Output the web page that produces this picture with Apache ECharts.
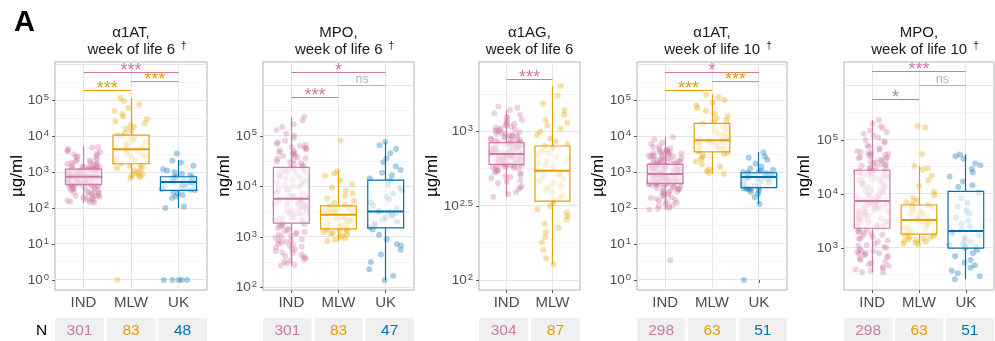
<!DOCTYPE html>
<html><head><meta charset="utf-8">
<script src="https://cdn.jsdelivr.net/npm/echarts@6/dist/echarts.min.js"></script>
<style>html,body{margin:0;padding:0;background:#fff}#c{width:995px;height:341px}</style>
</head><body><div id="c"></div><script>
const FONT = '"Liberation Sans", Arial, Helvetica, sans-serif';

// ---------------- DATA ----------------
const groups3 = ['IND', 'MLW', 'UK'];
const groups2 = ['IND', 'MLW'];
const groupColors = {IND: '#CC79A7', MLW: '#E69F00', UK: '#0072B2'};

const titleLine1 = ['α1AT,', 'MPO,', 'α1AG,', 'α1AT,', 'MPO,'];
const titleLine2 = ['week of life 6', 'week of life 6', 'week of life 6', 'week of life 10', 'week of life 10'];
const titleDagger = [true, true, false, true, true];
const units = ['µg/ml', 'ng/ml', 'µg/ml', 'µg/ml', 'ng/ml'];

// y tick labels (exponents of 10)
const ticksA1AT = [0, 1, 2, 3, 4, 5];
const ticksMPO6 = [2, 3, 4, 5];
const ticksA1AG = [2, 2.5, 3];
const ticksMPO10 = [3, 4, 5];

// N per group
const nA1AT6 = [301, 83, 48];
const nMPO6 = [301, 83, 47];
const nA1AG6 = [304, 87];
const nA1AT10 = [298, 63, 51];
const nMPO10 = [298, 63, 51];

// box stats: [lower whisker, Q1, median, Q3, upper whisker]
const boxA1AT6 = [[138, 455, 740, 1210, 5250], [660, 1700, 4300, 10700, 115000], [100, 310, 525, 740, 2150]];
const boxMPO6 = [[267, 1870, 5660, 23700, 238000], [830, 1440, 2750, 4100, 20300], [139, 1510, 3190, 13300, 76000]];
const boxA1AG6 = [[365, 603, 707, 843, 1400], [128, 341, 546, 801, 2030]];
const boxA1AT10 = [[91, 484, 880, 1640, 9550], [880, 3640, 7600, 22500, 144000], [130, 370, 725, 955, 3600]];
const boxMPO10 = [[355, 2320, 7400, 27500, 234000], [1170, 1800, 3300, 6250, 33000], [263, 990, 2070, 11200, 54300]];

// significance: [group a, group b, label]
const sigA1AT6 = [[0, 2, '***'], [1, 2, '***'], [0, 1, '***']];
const sigMPO6 = [[0, 2, '*'], [1, 2, 'ns'], [0, 1, '***']];
const sigA1AG6 = [[0, 1, '***']];
const sigA1AT10 = [[0, 2, '*'], [1, 2, '***'], [0, 1, '***']];
const sigMPO10 = [[0, 2, '***'], [1, 2, 'ns'], [0, 1, '*']];

// individual points
const a1at6_IND = [140,150,162,170,182,190,205,212,224,236,250,262,280,298,318,340,362,380,402,420,438,452,
 462,478,500,512,530,548,562,580,598,612,630,648,662,680,690,702,712,722,730,736,742,746,
 752,768,788,802,822,848,872,898,922,948,982,1000,1022,1048,1082,1100,1122,1148,1172,1190,1202,1212,
 1250,1300,1350,1400,1460,1520,1600,1700,1800,1900,2000,2120,2300,2500,2700,3000,3300,3600,4000,4400,4800,5000,
 145,158,175,195,215,240,270,290,330,350,370,395,415,430,445,470,490,520,540,570,590,620,640,670,700,715,725,
 760,780,810,830,860,890,910,940,970,1010,1060,1090,1130,1160,1180,1280,1330,1420,1550,1650,1750,2200,2600,3100,3800];
const a1at6_MLW = [1,680,720,780,820,870,920,1000,1100,1200,1300,1400,1500,1600,1700,
 1900,2100,2300,2500,2700,2900,3100,3400,3700,4000,4300,4600,5000,5400,5800,6300,6800,7300,7900,8600,9300,10000,10700,
 12000,14000,16000,18000,20000,23000,26000,30000,35000,42000,50000,60000,75000,95000,115000];
const a1at6_UK = [1,1,1,1,1,100,110,190,210,230,250,280,310,320,340,360,380,400,420,450,470,490,510,520,530,
 560,590,620,650,680,700,720,740,800,900,1000,1100,1200,1500,1800,2100,3300];

const mpo6_IND = [270,300,340,380,420,470,520,580,640,700,760,820,900,980,1060,1150,1250,1370,1500,1650,1800,
 1900,2000,2150,2300,2450,2600,2800,3000,3200,3400,3600,3800,4000,4200,4400,4600,4800,5000,5200,5400,5600,
 5800,6200,6700,7200,7800,8400,9000,9700,10500,11300,12200,13100,14100,15200,16300,17500,18800,20000,21200,22400,23500,
 25000,27000,29000,31000,33000,35000,38000,41000,44000,47000,50000,54000,58000,63000,70000,80000,90000,100000,130000,170000,238000,
 280,320,360,400,450,500,560,620,680,740,800,860,950,1100,1200,1300,1450,1600,1750,1950,2100,2400,2700,2900,3300,3700,4100,4500,4900,5300,
 6000,6500,7500,8800,10000,11800,13500,16000,19000,22000,26000,30000,36000,40000,43000,46000,52000,56000,60000,66000,75000,110000,150000,200000];
const mpo6_MLW = [830,880,950,1000,1050,1100,1150,1200,1250,1300,1350,1400,1430,
 1460,1550,1650,1750,1850,1950,2050,2150,2250,2350,2450,2600,2700,
 2800,2900,3000,3100,3200,3300,3400,3500,3600,3700,3800,3950,4050,
 4300,4700,5200,5800,6500,7300,8200,9500,11000,13000,16000,18000,20000,80000];
const mpo6_UK = [139,170,230,320,450,560,680,720,900,1100,1400,
 1550,1700,1850,2000,2200,2400,2600,2800,2950,3100,3150,
 3300,3700,4200,4800,5500,6300,7200,8300,9500,11000,13000,
 14500,16500,18500,21000,25000,30000,36000,45000,55000,65000,76000];

const a1ag6_IND = [365,390,410,430,450,470,485,500,515,530,540,550,560,570,578,585,590,595,600,602,
 605,612,618,625,632,638,645,650,656,662,668,673,679,684,689,693,697,700,703,706,
 709,715,722,728,735,742,749,756,763,770,777,784,790,797,804,812,820,828,835,842,
 850,865,880,895,910,925,940,955,970,990,1010,1030,1050,1080,1110,1150,1200,1260,1330,1480,
 380,420,460,495,520,545,565,575,592,598,608,615,622,628,635,642,648,653,659,665,671,676,682,687,691,695,699,702,704,
 712,718,725,732,738,745,752,760,766,773,780,787,794,800,808,816,824,832,839,
 858,872,888,902,918,933,948,962,980,1000,1020,1040,1065,1095,1130,1170,1230,1300,1400,1450];
const a1ag6_MLW = [128,140,160,180,195,210,225,240,255,270,285,300,315,330,
 345,360,375,390,405,420,435,450,465,480,495,510,525,540,
 555,575,595,615,635,655,675,695,715,735,755,770,785,800,
 820,860,900,950,1000,1050,1100,1150,1200,1300,1400,1550,1750,2030];

const a1at10_IND = [3.5,91,100,115,130,150,170,190,210,235,260,285,310,335,360,385,410,430,450,465,480,
 490,505,520,535,550,565,580,600,620,640,660,680,700,720,740,760,780,800,830,850,870,
 900,930,960,990,1020,1060,1100,1140,1180,1220,1260,1300,1340,1380,1420,1460,1500,1540,1580,1610,1640,
 1700,1800,1900,2000,2100,2200,2350,2500,2650,2800,2950,3100,3300,3500,3700,3900,4200,4600,5200,6500,9500,
 95,108,122,140,160,180,200,222,248,272,298,322,348,372,398,420,440,458,472,
 498,512,528,542,558,572,590,610,630,650,670,690,710,730,750,770,790,815,840,860,875,
 915,945,975,1005,1040,1080,1120,1160,1200,1240,1280,1320,1360,1400,1440,1480,1520,1560,1600,1630,
 1750,1850,1950,2050,2150,2280,2420,2580,2720,2880,3050,3200,3400,3600,3800,4000,4400,5000,6000,8000];
const a1at10_MLW = [880,950,1050,1200,1400,1650,1950,2300,2600,2900,3200,3500,
 3700,4000,4300,4600,5000,5400,5800,6200,6600,7000,7300,7500,
 7800,8400,9200,10000,11000,12000,13500,15000,16500,18000,20000,22000,
 24000,27000,31000,36000,42000,50000,60000,72000,85000,100000,120000,144000];
const a1at10_UK = [1,130,200,250,280,300,320,335,350,360,365,
 380,420,460,500,540,580,620,650,680,700,720,
 740,760,780,800,820,840,860,880,900,920,950,
 980,1020,1080,1150,1250,1400,1700,2200,2500,2700,3500];

const mpo10_IND = [355,380,420,470,530,600,680,740,780,820,870,950,1050,1150,1300,1450,1600,1750,1900,2050,2250,
 2400,2550,2700,2900,3100,3300,3500,3750,4000,4250,4500,4800,5100,5400,5700,6000,6300,6600,6900,7100,7300,
 7600,8100,8700,9300,10000,10800,11600,12500,13400,14400,15500,16500,17700,19000,20300,21700,23000,24300,25500,26500,27300,
 29000,31000,33000,35000,37000,40000,43000,46000,49000,52000,55000,58000,62000,70000,80000,95000,110000,130000,150000,180000,234000,
 360,400,450,500,560,640,710,760,800,840,900,1000,1100,1200,1380,1520,1680,1820,1980,2150,
 2480,2620,2800,3000,3200,3400,3600,3900,4100,4400,4650,4950,5250,5550,5850,6150,6450,6750,7000,7200,
 7800,8400,9000,9600,10400,11200,12000,12900,13900,14900,16000,17100,18300,19600,21000,22300,23600,24900,26000,27000,
 30000,32000,34000,36000,38500,41500,44500,47500,50500,53500,56500,60000,66000,75000,88000,100000,120000,140000,165000,200000];
const mpo10_MLW = [1170,1200,1250,1300,1350,1400,1450,1500,1550,1600,1680,1750,
 1850,1950,2050,2200,2350,2500,2650,2800,2950,3050,3150,3250,
 3400,3600,3800,4000,4200,4500,4800,5100,5400,5700,6000,6200,
 6500,7000,7600,8300,9500,11000,14000,18000,22000,28000,30000,33000,55000,170000,180000];
const mpo10_UK = [263,300,340,380,430,480,540,600,700,800,920,
 1000,1050,1100,1150,1200,1300,1400,1550,1700,1850,2000,
 2200,2500,2800,3200,3700,4300,5000,5800,6800,8300,10500,
 13500,14500,17000,21000,25000,29000,34000,37000,45000,50000,54000];

// ---------------- PANEL DEFINITIONS (built from data) ----------------
const panels = [
  {groups: groups3, pts: [a1at6_IND, a1at6_MLW, a1at6_UK], box: boxA1AT6, n: nA1AT6, ticks: ticksA1AT, sig: sigA1AT6},
  {groups: groups3, pts: [mpo6_IND, mpo6_MLW, mpo6_UK], box: boxMPO6, n: nMPO6, ticks: ticksMPO6, sig: sigMPO6},
  {groups: groups2, pts: [a1ag6_IND, a1ag6_MLW], box: boxA1AG6, n: nA1AG6, ticks: ticksA1AG, sig: sigA1AG6},
  {groups: groups3, pts: [a1at10_IND, a1at10_MLW, a1at10_UK], box: boxA1AT10, n: nA1AT10, ticks: ticksA1AT, sig: sigA1AT10},
  {groups: groups3, pts: [mpo10_IND, mpo10_MLW, mpo10_UK], box: boxMPO10, n: nMPO10, ticks: ticksMPO10, sig: sigMPO10}
];

// ---------------- LAYOUT ----------------
const TOP = 62, H = 228;
const layout = [
  {left: 55, width: 152, yMin: -0.28, yMax: 6.06, major: 1, nameX: 17, brY: [5.77, 5.52, 5.28]},
  {left: 263, width: 151, yMin: 1.95, yMax: 6.46, major: 1, nameX: 224, brY: [6.26, 6.0, 5.76]},
  {left: 479, width: 101, yMin: 1.933, yMax: 3.47, major: 0.5, nameX: 432, brY: [3.355]},
  {left: 637, width: 150, yMin: -0.28, yMax: 6.06, major: 1, nameX: 598.5, brY: [5.77, 5.52, 5.27]},
  {left: 844, width: 150, yMin: 2.222, yMax: 6.444, major: 1, nameX: 804, brY: [6.26, 6.01, 5.75]}
];

function jitter(i, seed) {
  const s = Math.sin(i * 127.1 + seed * 311.7) * 43758.5453;
  return (s - Math.floor(s) - 0.5) * 2 * 0.35;
}
function hexA(hex, a) {
  const r = parseInt(hex.slice(1, 3), 16), g = parseInt(hex.slice(3, 5), 16), b = parseInt(hex.slice(5, 7), 16);
  return 'rgba(' + r + ',' + g + ',' + b + ',' + a + ')';
}
const crisp = v => Math.round(v - 0.5) + 0.5;

const grid = [], xAxis = [], yAxis = [], series = [], title = [], graphic = [];

title.push({text: 'A', left: 14, top: 8, padding: 0,
  textStyle: {fontSize: 29, fontWeight: 'bold', color: '#000', fontFamily: FONT}});

panels.forEach((p, i) => {
  const L = layout[i];
  const n = p.groups.length;
  const cats = p.groups.map((_, k) => k + 1);
  grid.push({left: L.left, top: TOP, width: L.width, height: H, show: true,
    borderColor: '#b3b3b3', borderWidth: 1, backgroundColor: '#fff'});
  xAxis.push({gridIndex: i, type: 'value', min: 0.4, max: n + 0.6,
    axisLine: {show: false}, splitLine: {show: false},
    axisTick: {show: true, customValues: cats, length: 3, lineStyle: {color: '#555'}},
    axisLabel: {customValues: cats, formatter: v => p.groups[Math.round(v) - 1],
      color: '#4d4d4d', fontSize: 15, fontFamily: FONT, margin: 5}});
  yAxis.push({gridIndex: i, type: 'value', min: L.yMin, max: L.yMax,
    axisLine: {show: false}, splitLine: {show: false},
    axisTick: {show: true, customValues: p.ticks, length: 3, lineStyle: {color: '#555'}},
    axisLabel: {customValues: p.ticks, margin: 6,
      formatter: v => {
        const e = Math.abs(v - Math.round(v)) < 1e-6 ? String(Math.round(v)) : v.toFixed(1);
        return '{b|10}{s|' + e + '}';
      },
      rich: {
        b: {fontSize: 13.5, color: '#4d4d4d', fontFamily: FONT, lineHeight: 16},
        s: {fontSize: 9.5, color: '#4d4d4d', fontFamily: FONT, verticalAlign: 'top', padding: [0, 0, 0, 1]}
      }}});

  // gridlines
  const gl = [];
  const half = L.major / 2;
  for (let v = Math.ceil(L.yMin / half - 1e-9) * half; v <= L.yMax + 1e-9; v += half) {
    const isMajor = Math.abs(v / L.major - Math.round(v / L.major)) < 1e-6 ? 1 : 0;
    gl.push([1, v, isMajor, 0]);
  }
  cats.forEach(c => gl.push([c, (L.yMin + L.yMax) / 2, 1, 1]));
  series.push({type: 'custom', xAxisIndex: i, yAxisIndex: i, z: 1, silent: true, data: gl,
    renderItem: (params, api) => {
      const cs = params.coordSys;
      const major = api.value(2), kind = api.value(3);
      const style = {stroke: major ? '#e6e6e6' : '#f3f3f3', lineWidth: major ? 1 : 0.8};
      if (kind === 0) {
        const y = crisp(api.coord([1, api.value(1)])[1]);
        return {type: 'line', shape: {x1: cs.x, y1: y, x2: cs.x + cs.width, y2: y}, style};
      }
      const x = crisp(api.coord([api.value(0), api.value(1)])[0]);
      return {type: 'line', shape: {x1: x, y1: cs.y, x2: x, y2: cs.y + cs.height}, style};
    }});

  // jittered points
  p.pts.forEach((arr, g) => {
    const col = groupColors[p.groups[g]];
    series.push({type: 'scatter', xAxisIndex: i, yAxisIndex: i, z: 2, silent: true,
      symbolSize: 6, itemStyle: {color: hexA(col, 0.42)},
      data: arr.map((v, k) => [g + 1 + jitter(k, i * 10 + g + 1), Math.log10(v)])});
  });

  // boxes
  series.push({type: 'custom', xAxisIndex: i, yAxisIndex: i, z: 3, silent: true,
    encode: {x: 0, y: [1, 2, 3, 4, 5]},
    data: p.box.map((b, g) => ({value: [g + 1].concat(b.map(v => Math.log10(v))),
      itemStyle: {color: groupColors[p.groups[g]]}})),
    renderItem: (params, api) => {
      const x = api.value(0);
      const col = api.visual('color');
      const hw = api.size([0.38, 0])[0];
      const c = k => api.coord([x, api.value(k)]);
      const lo = c(1), q1 = c(2), md = c(3), q3 = c(4), hi = c(5);
      const cx = crisp(lo[0]);
      return {type: 'group', children: [
        {type: 'line', shape: {x1: cx, y1: hi[1], x2: cx, y2: q3[1]}, style: {stroke: col, lineWidth: 1.2}},
        {type: 'line', shape: {x1: cx, y1: q1[1], x2: cx, y2: lo[1]}, style: {stroke: col, lineWidth: 1.2}},
        {type: 'rect', shape: {x: lo[0] - hw, y: q3[1], width: 2 * hw, height: q1[1] - q3[1]},
          style: {fill: 'rgba(255,255,255,0.6)', stroke: col, lineWidth: 1.2}},
        {type: 'line', shape: {x1: lo[0] - hw, y1: md[1], x2: lo[0] + hw, y2: md[1]}, style: {stroke: col, lineWidth: 2}}
      ]};
    }});

  // significance brackets
  const brData = p.sig.map((s, k) => [s[0] + 1, s[1] + 1, L.brY[k], k]);
  series.push({type: 'custom', xAxisIndex: i, yAxisIndex: i, z: 4, silent: true, data: brData,
    encode: {x: [0, 1], y: 2},
    renderItem: (params, api) => {
      const k = api.value(3);
      const s = p.sig[k];
      let col;
      if (s[2] === 'ns') col = '#b3b3b3';
      else col = groupColors[p.groups[p.box[s[0]][2] > p.box[s[1]][2] ? s[0] : s[1]]];
      const a = api.coord([api.value(0), api.value(2)]);
      const b = api.coord([api.value(1), api.value(2)]);
      const y = crisp(a[1]);
      const isNs = s[2] === 'ns';
      return {type: 'group', children: [
        {type: 'line', shape: {x1: a[0], y1: y, x2: b[0], y2: y}, style: {stroke: col, lineWidth: 1}},
        {type: 'text', x: (a[0] + b[0]) / 2, y: isNs ? y - 5.5 : y - 1,
          style: {text: s[2], fill: col, fontSize: isNs ? 12.5 : 18, fontFamily: FONT,
            align: 'center', verticalAlign: 'middle'}}
      ]};
    }});

  // title
  const cx = L.left + L.width / 2;
  const line2 = titleDagger[i]
    ? '{p| }{t|' + titleLine2[i] + '}{g| }{s|†}'
    : '{t|' + titleLine2[i] + '}';
  title.push({text: '{t|' + titleLine1[i] + '}\n' + line2, left: cx, top: 24, textAlign: 'center', padding: 0,
    textStyle: {fontWeight: 'normal', rich: {
      t: {fontSize: 15, color: '#1a1a1a', fontFamily: FONT, fontWeight: 'normal', lineHeight: 17},
      p: {fontSize: 15, width: 12, lineHeight: 17},
      g: {fontSize: 15, width: 6, lineHeight: 17},
      s: {fontSize: 10, color: '#1a1a1a', fontFamily: FONT, fontWeight: 'normal', padding: [0, 0, 8, 0]}
    }}});

  // y-axis name
  graphic.push({type: 'text', x: L.nameX, y: TOP + H / 2, rotation: Math.PI / 2, silent: true,
    style: {text: units[i], fill: '#000', fontSize: 17, fontFamily: FONT, align: 'center', verticalAlign: 'middle'}});

  // N table
  const gap = 2.5;
  const cw = (L.width - gap * (n - 1)) / n;
  p.n.forEach((val, g) => {
    const x0 = L.left + g * (cw + gap);
    graphic.push({type: 'rect', shape: {x: x0, y: 318, width: cw, height: 25}, silent: true, style: {fill: '#f0f0f0'}});
    graphic.push({type: 'text', x: x0 + cw / 2, y: 330.5, silent: true,
      style: {text: String(val), fill: groupColors[p.groups[g]], fontSize: 15.5, fontFamily: FONT,
        align: 'center', verticalAlign: 'middle'}});
  });
});

graphic.push({type: 'text', x: 41.5, y: 330.5, silent: true,
  style: {text: 'N', fill: '#000', fontSize: 15.5, fontFamily: FONT, align: 'center', verticalAlign: 'middle'}});

const chart = echarts.init(document.getElementById('c'), null, {renderer: 'canvas'});
chart.setOption({animation: false, backgroundColor: '#fff', title, grid, xAxis, yAxis, series, graphic});
</script></body></html>
